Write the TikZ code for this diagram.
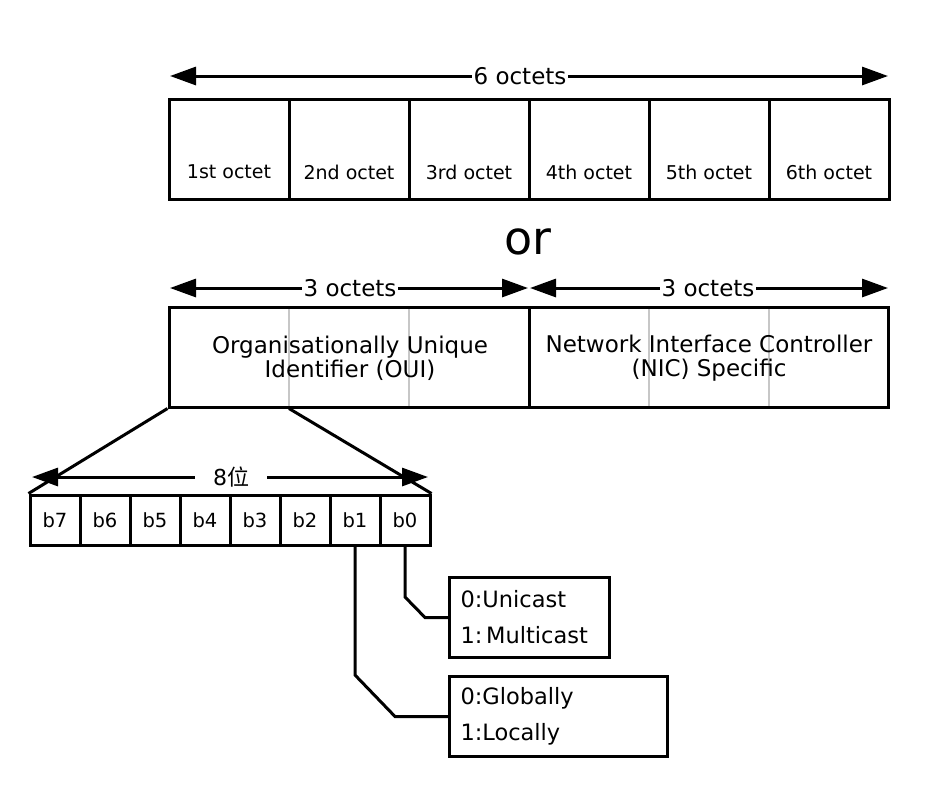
\documentclass[tikz,border=0pt]{standalone}
\usepackage{fontspec}
\setmainfont{DejaVu Sans}
\newfontfamily\cjk{Noto Sans CJK SC}
\usetikzlibrary{arrows.meta}
\tikzset{
  lw/.style={line width=3pt},
  cell/.style={draw, lw, inner sep=0pt, minimum height=100pt},
  bit/.style={draw, lw, inner sep=0pt, minimum width=50pt, minimum height=50pt, font=\fontsize{19.5}{22}\selectfont},
  dimarr/.style={lw, {Triangle[length=26pt,width=18pt]}-{Triangle[length=26pt,width=18pt]}},
  dimlabel/.style={fill=white, inner xsep=2pt, inner ysep=1pt, font=\fontsize{23}{24}\selectfont},
  octlabel/.style={font=\fontsize{19}{22}\selectfont, inner sep=0pt},
  grid/.style={draw=black!22, line width=2.2pt},
  conn/.style={lw},
  midtext/.style={align=center, font=\fontsize{23}{24}\selectfont, inner sep=0pt},
  infobox/.style={draw, lw, inner xsep=11pt, inner ysep=0pt, minimum height=80pt, align=left, font=\fontsize{22.5}{36}\selectfont}
}
\begin{document}
\begin{tikzpicture}[x=1pt,y=-1pt]
\fill[white] (0,0) rectangle (949,796);
\useasboundingbox (0,0) rectangle (949,796);

% top row
\coordinate (tl) at (170,76);
\coordinate (tr) at (888,76);
\draw[dimarr] (tl) -- (tr);
\node[dimlabel] (six) at (520,76) {6 octets};
\foreach \i/\t in {1/1st,2/2nd,3/3rd,4/4th,5/5th,6/6th}{
  \node[cell, minimum width=120pt] (o\i) at (109+\i*120,149) {};
  \node[octlabel] (ol\i) at (109+\i*120,172) {\t\ octet};
}

\node[font=\fontsize{46}{50}\selectfont, inner sep=0pt] (or) at (528,242) {or};

% middle row
\coordinate (ml) at (170,288);
\coordinate (mm) at (528,288);
\coordinate (mm2) at (530,288);
\coordinate (mr) at (888,288);
\draw[dimarr] (ml) -- (mm);
\draw[dimarr] (mm2) -- (mr);
\node[dimlabel] (l3a) at (350,288) {3 octets};
\node[dimlabel] (l3b) at (708,288) {3 octets};

\foreach \x in {289,409,649,769}{
  \draw[grid] (\x,308) -- (\x,406);
}
\node[cell, minimum width=360pt] (oui) at (349,357) {};
\node[cell, minimum width=359pt] (nic) at (708.5,357) {};
\node[midtext] (ouit) at (350,358) {Organisationally Unique\\Identifier (OUI)};
\node[midtext] (nict) at (709,358) {Network Interface Controller\\(NIC) Specific};

% bits
\foreach \i/\t in {0/b7,1/b6,2/b5,3/b4,4/b3,5/b2,6/b1,7/b0}{
  \node[bit] (\t) at (55+\i*50,520) {\t};
}
\draw[conn] (oui.south west) -- (b7.north west);
\draw[conn] (oui.south west -| 289,0) -- (b0.north east);
\coordinate (bl) at (32,477);
\coordinate (br) at (428,477);
\draw[dimarr] (bl) -- (br);
\node[fill=white, inner xsep=18pt, inner ysep=2pt, font=\fontsize{22}{24}\selectfont] (eight) at (231,477) {8{\cjk 位}};

% info boxes
\node[infobox, minimum width=160pt, text width=138pt, anchor=north west] (uc) at (448,576) {0:Unicast\\1:\,Multicast};
\node[infobox, minimum width=218pt, text width=196pt, anchor=north west] (gl) at (448,675) {0:Globally\\1:Locally};

\draw[conn] (b0.south) -- (b0.south |- 0,597) -- (uc.west -| 425,0) -- (uc.west);
\draw[conn] (b1.south) -- (b1.south |- 0,675) -- (gl.west -| 395,0) -- (gl.west);
\end{tikzpicture}
\end{document}
